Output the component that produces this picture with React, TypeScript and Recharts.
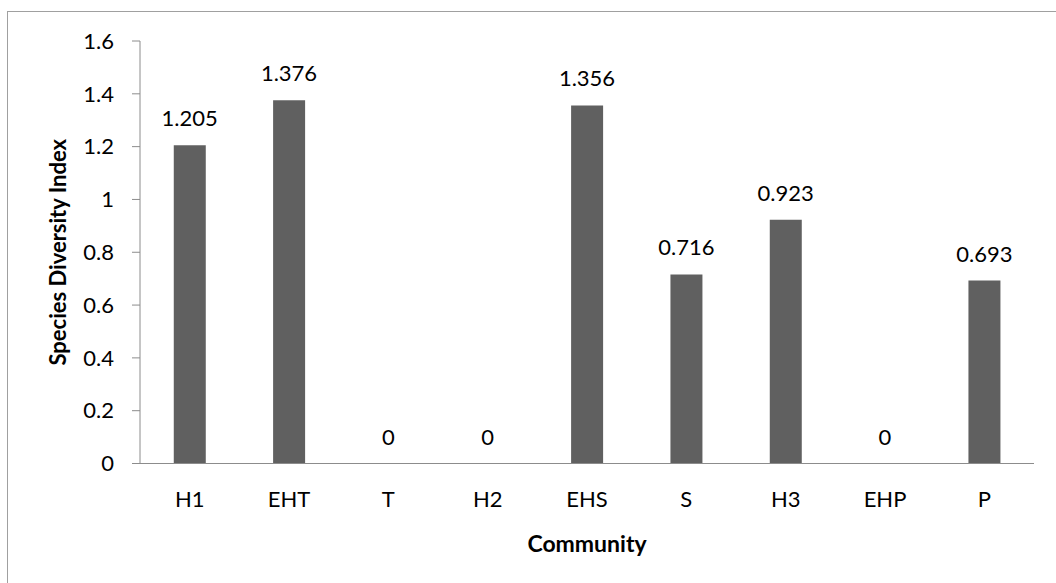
import React from 'react';
import { ComposedChart, Bar, Line, XAxis, YAxis, LabelList, Label } from 'recharts';

const communities = ['H1', 'EHT', 'T', 'H2', 'EHS', 'S', 'H3', 'EHP', 'P'];
const diversity = [1.205, 1.376, 0, 0, 1.356, 0.716, 0.923, 0, 0.693];
const yTicks = [0, 0.2, 0.4, 0.6, 0.8, 1, 1.2, 1.4, 1.6];
const boundaryTicks = [0, 1, 2, 3, 4, 5, 6, 7, 8, 9];

const data = communities.map((name, i) => ({ name, value: diversity[i], pos: i + 0.5 }));

const font = 'Lato, "Open Sans", sans-serif';
const axisGray = '#8c8c8c';

const App: React.FC = () => {
  return (
    <div style={{ position: 'absolute', left: 0, top: 0, width: 1056, height: 583, background: '#fff', overflow: 'hidden', fontFamily: font }}>
      <div style={{ position: 'absolute', left: 7, top: 11, width: 1060, height: 600, border: '1px solid #a0a0a0', boxSizing: 'border-box' }} />
      <ComposedChart
        width={1056}
        height={583}
        data={data}
        margin={{ top: 41, right: 22, bottom: 0, left: 80 }}
        barCategoryGap="34%"
      >
        <XAxis
          xAxisId="grid"
          type="number"
          dataKey="pos"
          domain={[0, 9]}
          ticks={boundaryTicks}
          tick={false}
          axisLine={false}
          tickLine={{ stroke: axisGray }}
          tickSize={8}
          height={0}
        />
        <XAxis
          dataKey="name"
          axisLine={{ stroke: axisGray }}
          tickLine={false}
          tick={{ fill: '#000', fontSize: 22, fontFamily: font }}
          tickMargin={22}
          height={119.5}
        >
          <Label value="Community" position="insideBottom" offset={31} style={{ fill: '#000', fontSize: 23, fontWeight: 700, fontFamily: font }} />
        </XAxis>
        <YAxis
          domain={[0, 1.6]}
          ticks={yTicks}
          width={60}
          axisLine={{ stroke: axisGray }}
          tickLine={{ stroke: axisGray }}
          tickSize={8}
          tickMargin={18}
          tick={{ fill: '#000', fontSize: 22, fontFamily: font }}
        >
          <Label value="Species Diversity Index" angle={-90} position="insideLeft" offset={-22} style={{ textAnchor: 'middle', fill: '#000', fontSize: 22, fontWeight: 700, fontFamily: font }} />
        </YAxis>
        <Bar dataKey="value" fill="#606060" isAnimationActive={false} />
        <Line
          dataKey="value"
          stroke="none"
          dot={false}
          activeDot={false}
          legendType="none"
          isAnimationActive={false}
        >
          <LabelList
            dataKey="value"
            position="top"
            offset={19}
            formatter={(v: any) => String(v)}
            style={{ fill: '#000', fontSize: 22, fontFamily: font }}
          />
        </Line>
      </ComposedChart>
    </div>
  );
};

export default App;
